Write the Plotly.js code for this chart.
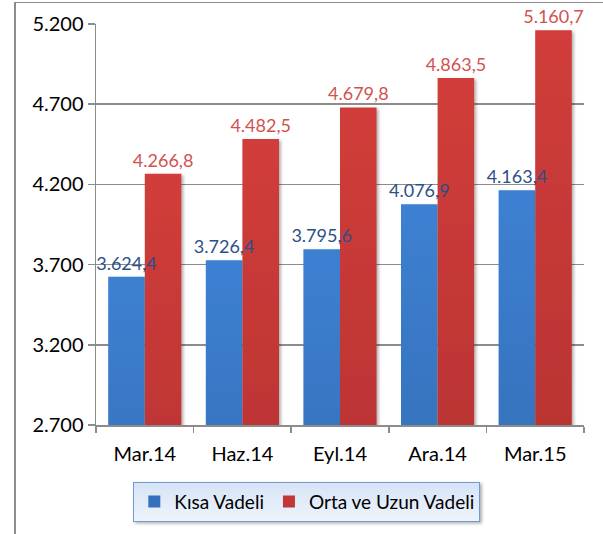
<!DOCTYPE html>
<html>
<head>
<meta charset="utf-8">
<script src="https://cdn.plot.ly/plotly-3.0.1.min.js"></script>
<style>
html,body{margin:0;padding:0;background:#fff;}
#frame{position:absolute;left:14px;top:2px;width:589px;height:532px;border-left:2px solid #8c8c8c;border-top:1px solid #8c8c8c;pointer-events:none;z-index:5;}
#chart{position:absolute;left:0;top:0;width:603px;height:534px;}
</style>
</head>
<body>
<div id="chart"></div>
<div id="frame"></div>
<script>
const categories = ["Mar.14", "Haz.14", "Eyl.14", "Ara.14", "Mar.15"];
const kisaVadeli = [3624.4, 3726.4, 3795.6, 4076.9, 4163.4];
const ortaUzunVadeli = [4266.8, 4482.5, 4679.8, 4863.5, 5160.7];
const seriesNames = ["Kısa Vadeli", "Orta ve Uzun Vadeli"];
const yTicks = [2700, 3200, 3700, 4200, 4700, 5200];

const font = "Lato, 'Open Sans', sans-serif";

const traces = [
  {
    type: "bar", name: seriesNames[0], x: categories, y: kisaVadeli,
    marker: {color: "#3470bb"},
    texttemplate: "%{y:,.1f}", textposition: "outside", constraintext: "none",
    textfont: {family: font, size: 18, color: "#2b5088"},
    cliponaxis: false
  },
  {
    type: "bar", name: seriesNames[1], x: categories, y: ortaUzunVadeli,
    marker: {color: "#c23735"},
    texttemplate: "%{y:,.1f}", textposition: "outside", constraintext: "none",
    textfont: {family: font, size: 18, color: "#d05350"},
    cliponaxis: false
  }
];

const layout = {
  width: 603, height: 534,
  margin: {l: 96, r: 19, t: 24, b: 106},
  paper_bgcolor: "rgba(0,0,0,0)", plot_bgcolor: "rgba(0,0,0,0)",
  separators: ",.",
  barmode: "group", bargap: 0.25, bargroupgap: 0,
  font: {family: font, size: 20, color: "#000"},
  showlegend: true,
  legend: {
    orientation: "h", x: 0.432, xanchor: "center", y: -0.141, yanchor: "top",
    bgcolor: "#dfe9f8", bordercolor: "#6f9ad6", borderwidth: 1,
    font: {family: font, size: 19, color: "#000"}
  },
  xaxis: {
    type: "category", tickson: "boundaries", ticks: "outside", ticklen: 6,
    tickcolor: "#8c8c8c", tickwidth: 1.5, ticklabelstandoff: 10,
    showline: true, linecolor: "#8c8c8c", linewidth: 1.5,
    showgrid: false, tickfont: {family: font, size: 20, color: "#000"}
  },
  yaxis: {
    range: [2700, 5200], tickvals: yTicks, tickformat: ",d",
    ticks: "outside", ticklen: 7, tickcolor: "#8c8c8c", tickwidth: 1.5,
    showline: true, linecolor: "#8c8c8c", linewidth: 1.5,
    showgrid: true, gridcolor: "#8c8c8c", gridwidth: 1.5, zeroline: false,
    tickfont: {family: font, size: 20, color: "#000"}
  }
};

Plotly.newPlot("chart", traces, layout, {staticPlot: true, displayModeBar: false}).then(function(gd){
  const svg = gd.querySelector("svg.main-svg");
  const ns = "http://www.w3.org/2000/svg";
  let defs = svg.querySelector("defs");
  if (!defs) { defs = document.createElementNS(ns, "defs"); svg.insertBefore(defs, svg.firstChild); }
  function grad(id, top, bottom){
    const g = document.createElementNS(ns, "linearGradient");
    g.setAttribute("id", id); g.setAttribute("x1","0"); g.setAttribute("y1","0"); g.setAttribute("x2","0"); g.setAttribute("y2","1");
    const s1 = document.createElementNS(ns, "stop"); s1.setAttribute("offset","0"); s1.setAttribute("stop-color", top);
    const s2 = document.createElementNS(ns, "stop"); s2.setAttribute("offset","1"); s2.setAttribute("stop-color", bottom);
    g.appendChild(s1); g.appendChild(s2); defs.appendChild(g);
  }
  grad("gBlue", "#3d80d2", "#2b5c99");
  grad("gRed", "#d13d3a", "#a02a2b");
  grad("gLeg", "#d6e3f6", "#eef4fc");
  const f = document.createElementNS(ns, "filter");
  f.setAttribute("id", "shadow"); f.setAttribute("x", "-20%"); f.setAttribute("y", "-5%");
  f.setAttribute("width", "150%"); f.setAttribute("height", "130%");
  const ds = document.createElementNS(ns, "feDropShadow");
  ds.setAttribute("dx", "2"); ds.setAttribute("dy", "1.5"); ds.setAttribute("stdDeviation", "1.5");
  ds.setAttribute("flood-color", "#000"); ds.setAttribute("flood-opacity", "0.3");
  f.appendChild(ds); defs.appendChild(f);
  const groups = gd.querySelectorAll(".barlayer .trace");
  const ids = ["gBlue", "gRed"];
  groups.forEach(function(t, i){
    t.querySelectorAll(".point path").forEach(function(p){
      p.style.fill = "url(#" + ids[i] + ")";
      p.setAttribute("filter", "url(#shadow)");
    });
  });
  // bring data labels above all bars
  const barlayer = gd.querySelector(".barlayer");
  if (barlayer) {
    const top = document.createElementNS(ns, "g");
    top.setAttribute("class", "labels-top");
    barlayer.appendChild(top);
    gd.querySelectorAll(".barlayer .trace text.bartext").forEach(function(tx){ top.appendChild(tx); });
  }
  const lbg = gd.querySelector(".legend rect.bg");
  if (lbg) { lbg.setAttribute("filter", "url(#shadow)"); lbg.style.fill = "url(#gLeg)"; }
});
</script>
</body>
</html>
